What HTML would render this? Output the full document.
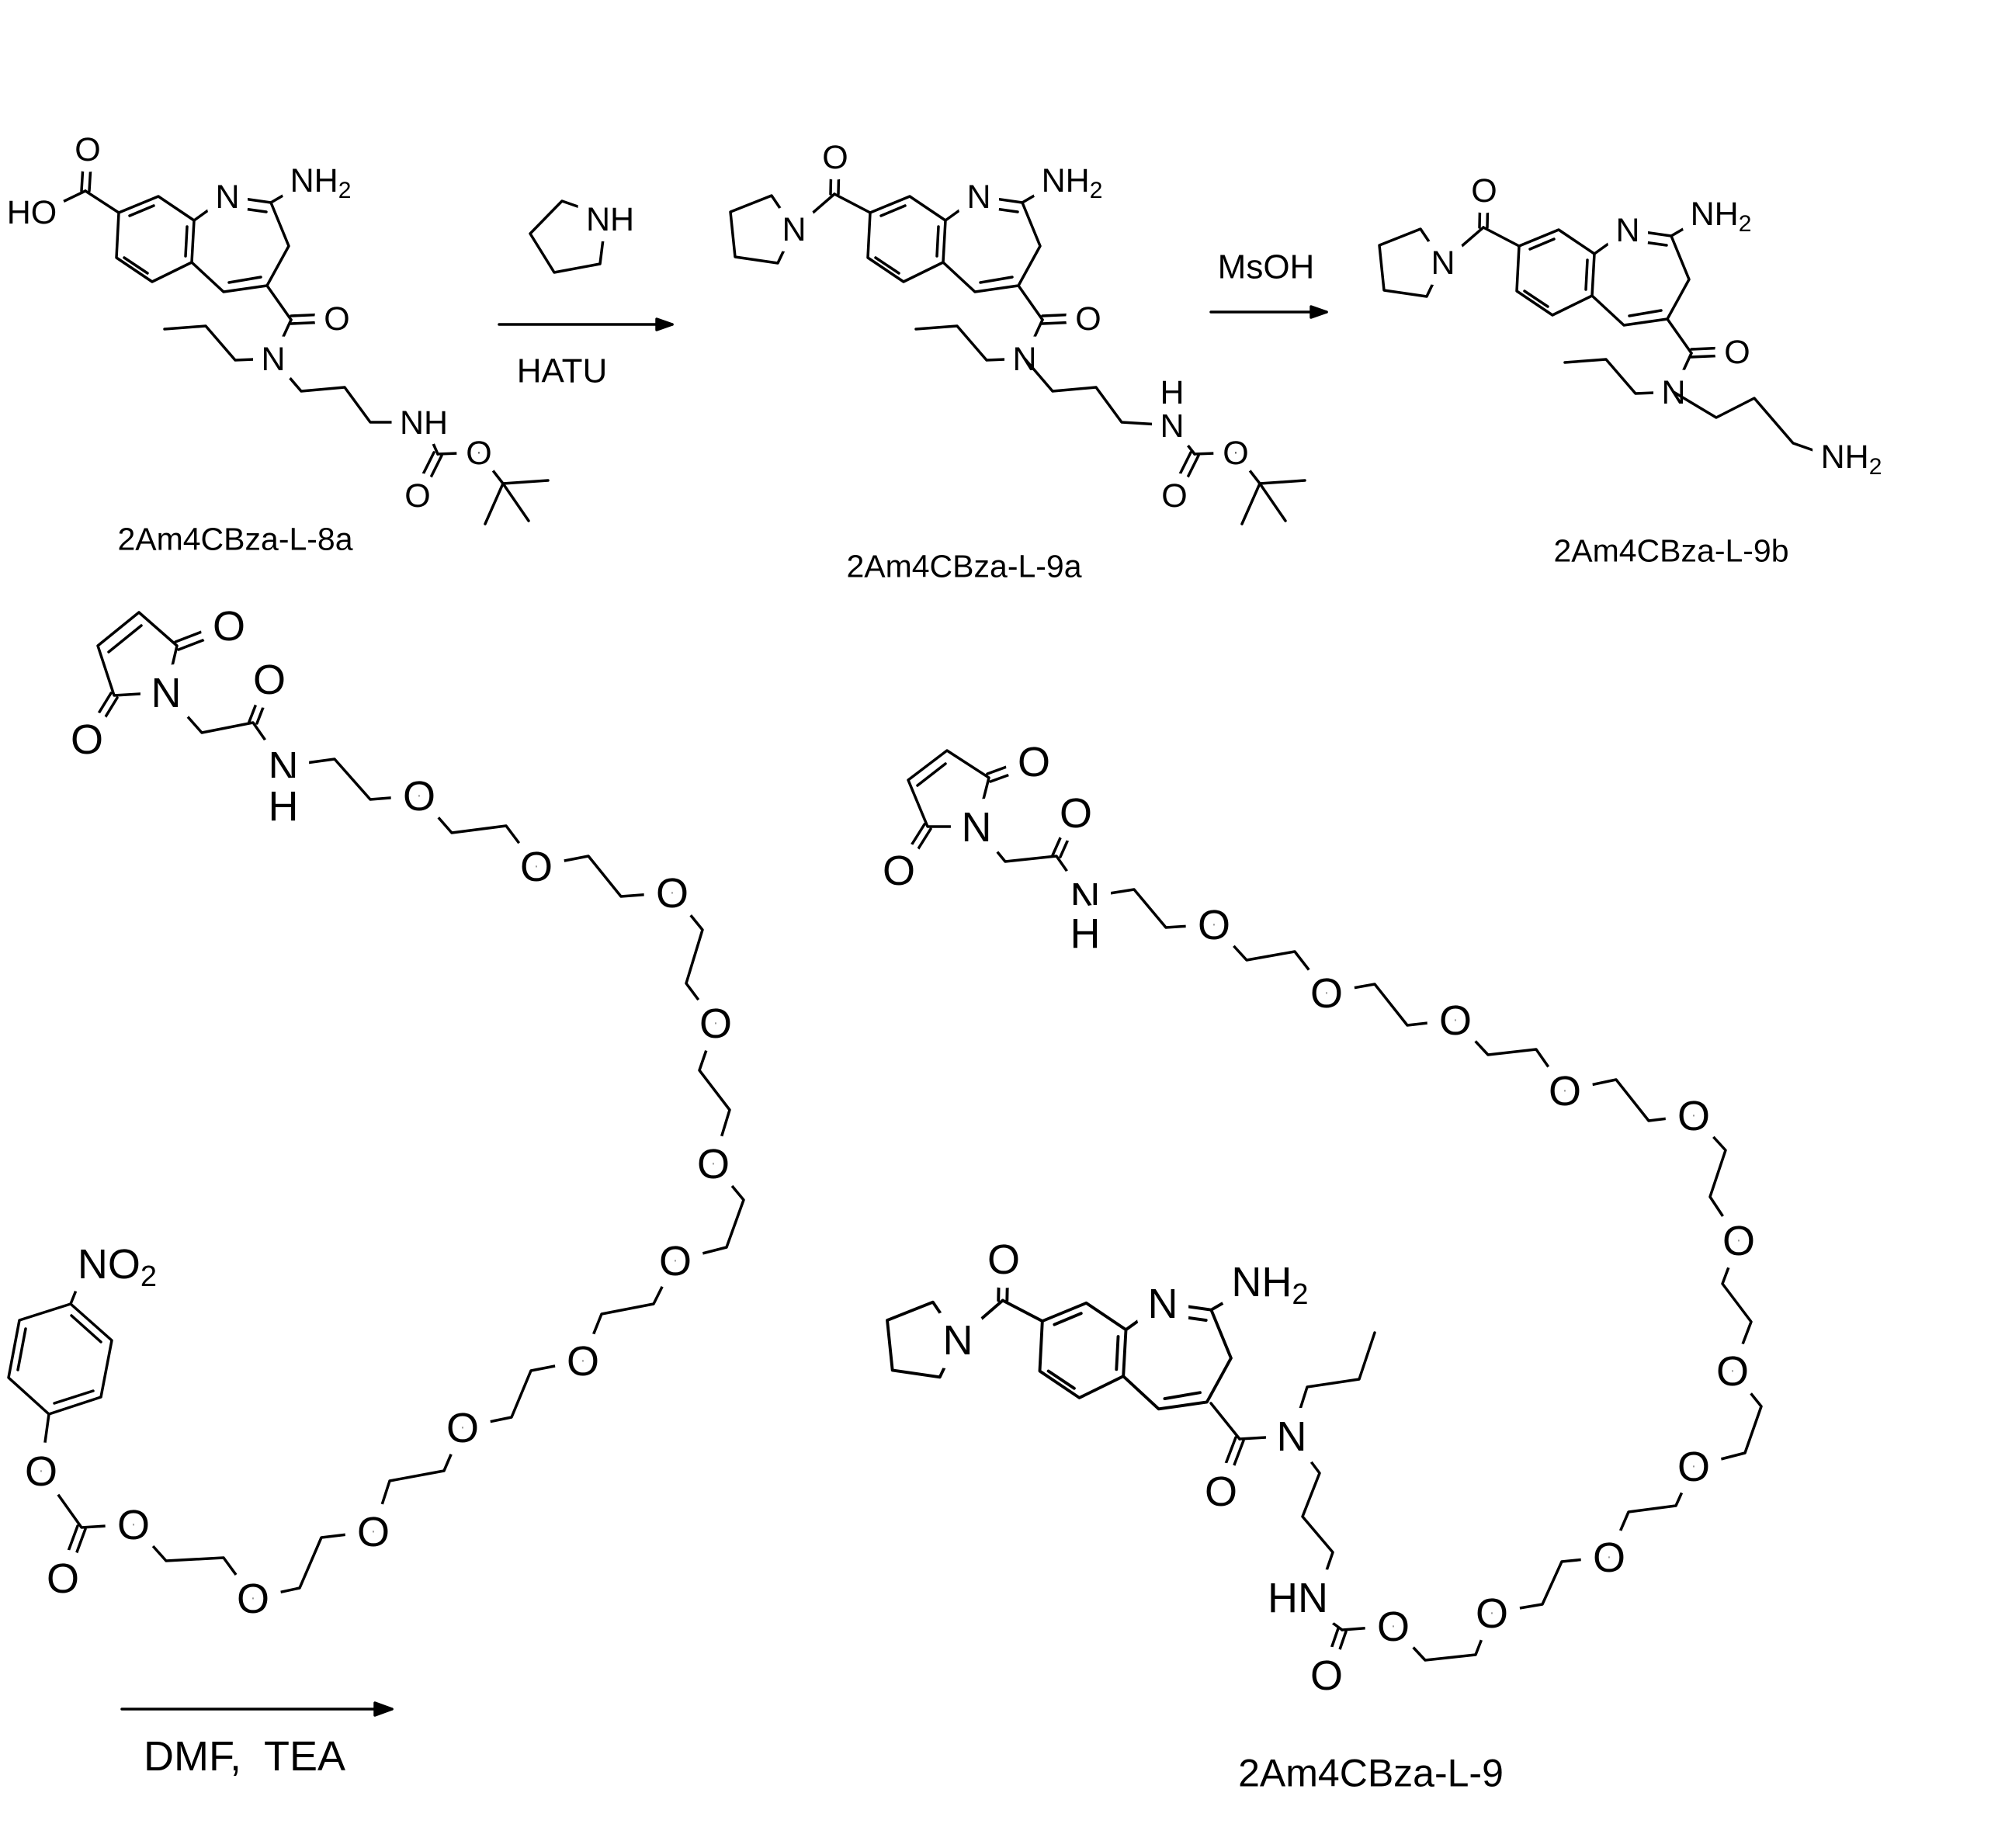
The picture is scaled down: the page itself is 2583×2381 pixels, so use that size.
<!DOCTYPE html>
<html><head><meta charset="utf-8"><style>
html,body{margin:0;padding:0;background:#fff}
svg{display:block}
line,polyline,polygon{stroke:#000;stroke-width:3.5;fill:none;stroke-linejoin:round;stroke-linecap:round}
text{font-family:"Liberation Sans",sans-serif;fill:#000;paint-order:stroke;stroke:#fff;stroke-linejoin:round}
.t{font-size:43px;stroke-width:28px}.b{font-size:54px;stroke-width:36px}
tspan{stroke:none}
.lab{stroke:none}
</style></head><body>
<svg width="2583" height="2381" viewBox="0 0 2583 2381" xmlns="http://www.w3.org/2000/svg">
<defs>
<g id="core">
<polygon points="153,274 204,253 250,284 247,338 196,363 150,332"/>
<line x1="167" y1="278" x2="198" y2="265"/>
<line x1="241" y1="292" x2="239" y2="330"/>
<line x1="190" y1="352" x2="160" y2="332"/>
<polyline points="250,284 293,253 349,261 372,317 344,368 288,376 247,338"/>
<line x1="300" y1="267" x2="343" y2="273"/>
<line x1="295" y1="364" x2="336" y2="357"/>
<line x1="349" y1="261" x2="392" y2="236"/>
</g>
<g id="pyra">
<line x1="153" y1="274" x2="107" y2="250"/>
<line x1="102" y1="250" x2="103" y2="204"/><line x1="112" y1="250" x2="113" y2="204"/>
<polyline points="107,250 55,295 26,252 -27,273 -21,331 34,339 55,295"/>
</g>
<g id="amideTop">
<line x1="344" y1="368" x2="375" y2="412"/>
<line x1="375" y1="407" x2="420" y2="405"/><line x1="375" y1="417" x2="420" y2="415"/>
<line x1="375" y1="412" x2="352" y2="462"/>
<polyline points="352,462 303,464 265,420 212,424"/>
</g>
</defs>

<!-- 8a -->
<use href="#core"/>
<use href="#amideTop"/>
<line x1="110" y1="246" x2="153" y2="274"/>
<line x1="105" y1="246" x2="108" y2="196"/><line x1="115" y1="246" x2="118" y2="196"/>
<line x1="110" y1="246" x2="60" y2="270"/>
<polyline points="352,462 388,504 444,499 477,544 546,544"/>
<line x1="546" y1="544" x2="564" y2="585"/>
<line x1="559" y1="583" x2="534" y2="633"/><line x1="569" y1="587" x2="544" y2="637"/>
<polyline points="564,585 617,583 648,623"/>
<line x1="648" y1="623" x2="706" y2="619"/><line x1="648" y1="623" x2="625" y2="675"/><line x1="648" y1="623" x2="681" y2="671"/>
<text class="t" x="41" y="273" dy=".35em" text-anchor="middle">HO</text>
<text class="t" x="113" y="192" dy=".35em" text-anchor="middle">O</text>
<text class="t" x="293" y="253" dy=".35em" text-anchor="middle">N</text>
<text class="t" x="413" y="232" dy=".35em" text-anchor="middle">NH<tspan font-size="30" dy="8">2</tspan></text>
<text class="t" x="434" y="410" dy=".35em" text-anchor="middle">O</text>
<text class="t" x="352" y="462" dy=".35em" text-anchor="middle">N</text>
<text class="t" x="546" y="544" dy=".35em" text-anchor="middle">NH</text>
<text class="t" x="538" y="638" dy=".35em" text-anchor="middle">O</text>
<text class="t" x="617" y="583" dy=".35em" text-anchor="middle">O</text>
<text class="lab" x="303" y="694" dy=".35em" text-anchor="middle" font-size="41">2Am4CBza-L-8a</text>

<!-- reagent pyrrolidine + HATU -->
<polyline points="770,275 724,259 683,301 714,351 773,340 778,300"/>
<text class="t" x="786" y="282" dy=".35em" text-anchor="middle">NH</text>
<line x1="643" y1="418" x2="866" y2="418"/>
<polygon points="866,418 846,411 846,425" style="fill:#000"/>
<text class="lab" x="724" y="477" dy=".35em" text-anchor="middle" font-size="44">HATU</text>

<!-- 9a -->
<g transform="translate(968,0)">
<use href="#core"/><use href="#pyra"/><use href="#amideTop"/>
<text class="t" x="293" y="253" dy=".35em" text-anchor="middle">N</text>
<text class="t" x="413" y="232" dy=".35em" text-anchor="middle">NH<tspan font-size="30" dy="8">2</tspan></text>
<text class="t" x="434" y="410" dy=".35em" text-anchor="middle">O</text>
<text class="t" x="352" y="462" dy=".35em" text-anchor="middle">N</text>
<text class="t" x="55" y="295" dy=".35em" text-anchor="middle">N</text>
<text class="t" x="108" y="202" dy=".35em" text-anchor="middle">O</text>
</g>
<polyline points="1320,462 1356,504 1412,499 1445,544 1510,548"/>
<line x1="1510" y1="548" x2="1539" y2="585"/>
<line x1="1534" y1="583" x2="1509" y2="633"/><line x1="1544" y1="587" x2="1519" y2="637"/>
<polyline points="1539,585 1592,583 1623,623"/>
<line x1="1623" y1="623" x2="1681" y2="619"/><line x1="1623" y1="623" x2="1600" y2="675"/><line x1="1623" y1="623" x2="1656" y2="671"/>
<text class="t" x="1510" y="548" dy=".35em" text-anchor="middle">N</text>
<text class="t" x="1510" y="505" dy=".35em" text-anchor="middle">H</text>
<text class="t" x="1513" y="638" dy=".35em" text-anchor="middle">O</text>
<text class="t" x="1592" y="583" dy=".35em" text-anchor="middle">O</text>
<text class="lab" x="1242" y="729" dy=".35em" text-anchor="middle" font-size="41">2Am4CBza-L-9a</text>

<!-- MsOH arrow -->
<line x1="1560" y1="402" x2="1709" y2="402"/>
<polygon points="1709,402 1689,395 1689,409" style="fill:#000"/>
<text class="lab" x="1631" y="343" dy=".35em" text-anchor="middle" font-size="44">MsOH</text>

<!-- 9b -->
<g transform="translate(1804,43)">
<use href="#core"/><use href="#pyra"/><use href="#amideTop"/>
<text class="t" x="293" y="253" dy=".35em" text-anchor="middle">N</text>
<text class="t" x="413" y="232" dy=".35em" text-anchor="middle">NH<tspan font-size="30" dy="8">2</tspan></text>
<text class="t" x="434" y="410" dy=".35em" text-anchor="middle">O</text>
<text class="t" x="352" y="462" dy=".35em" text-anchor="middle">N</text>
<text class="t" x="55" y="295" dy=".35em" text-anchor="middle">N</text>
<text class="t" x="108" y="202" dy=".35em" text-anchor="middle">O</text>
</g>
<polyline points="2156,505 2211,538 2260,513 2310,571 2350,585"/>
<text class="t" x="2385" y="588" dy=".35em" text-anchor="middle">NH<tspan font-size="30" dy="8">2</tspan></text>
<text class="lab" x="2153" y="709" dy=".35em" text-anchor="middle" font-size="41">2Am4CBza-L-9b</text>

<!-- left PEG reagent -->
<polygon points="179,789 126,832 147,896 214,892 228,832"/>
<line x1="182" y1="806" x2="140" y2="840"/>
<line x1="226" y1="827" x2="278" y2="807"/><line x1="230" y1="837" x2="282" y2="817"/>
<line x1="143" y1="893" x2="116" y2="937"/><line x1="151" y1="899" x2="124" y2="943"/>
<polyline points="214,892 260,944 326,931 365,987"/>
<line x1="321" y1="930" x2="342" y2="876"/><line x1="331" y1="932" x2="352" y2="878"/>
<polyline points="365,987 431,978 477,1030 540,1025 582,1073 652,1064 691,1116 758,1103 800,1155 866,1150 905,1198 884,1267 922,1318 901,1379 940,1430 919,1499 958,1546 936,1607 870,1624 842,1680 775,1693 751,1753 684,1766 659,1826 596,1839 572,1895 502,1908 481,1973 414,1981 386,2046 326,2059 288,2007 214,2011 172,1964 105,1968 53,1895 63,1822"/>
<line x1="100" y1="1966" x2="76" y2="2031"/><line x1="110" y1="1970" x2="86" y2="2035"/>
<polygon points="63,1822 11,1775 25,1701 91,1680 144,1727 130,1800"/>
<line x1="23" y1="1765" x2="33" y2="1712"/>
<line x1="92" y1="1695" x2="130" y2="1729"/>
<line x1="70" y1="1808" x2="120" y2="1792"/>
<line x1="91" y1="1680" x2="105" y2="1645"/>
<text class="b" x="151" y="1628" dy=".35em" text-anchor="middle">NO<tspan font-size="38" dy="10">2</tspan></text>
<text class="b" x="295" y="806" dy=".35em" text-anchor="middle">O</text>
<text class="b" x="112" y="952" dy=".35em" text-anchor="middle">O</text>
<text class="b" x="214" y="892" dy=".35em" text-anchor="middle">N</text>
<text class="b" x="347" y="875" dy=".35em" text-anchor="middle">O</text>
<text class="b" x="365" y="987" dy=".35em" text-anchor="middle">N</text>
<text class="b" x="365" y="1038" dy=".35em" text-anchor="middle">H</text>
<text class="b" x="540" y="1025" dy=".35em" text-anchor="middle">O</text>
<text class="b" x="691" y="1116" dy=".35em" text-anchor="middle">O</text>
<text class="b" x="866" y="1150" dy=".35em" text-anchor="middle">O</text>
<text class="b" x="922" y="1318" dy=".35em" text-anchor="middle">O</text>
<text class="b" x="919" y="1499" dy=".35em" text-anchor="middle">O</text>
<text class="b" x="870" y="1624" dy=".35em" text-anchor="middle">O</text>
<text class="b" x="751" y="1753" dy=".35em" text-anchor="middle">O</text>
<text class="b" x="596" y="1839" dy=".35em" text-anchor="middle">O</text>
<text class="b" x="481" y="1973" dy=".35em" text-anchor="middle">O</text>
<text class="b" x="326" y="2059" dy=".35em" text-anchor="middle">O</text>
<text class="b" x="172" y="1964" dy=".35em" text-anchor="middle">O</text>
<text class="b" x="81" y="2033" dy=".35em" text-anchor="middle">O</text>
<text class="b" x="53" y="1895" dy=".35em" text-anchor="middle">O</text>

<!-- DMF arrow -->
<line x1="157" y1="2202" x2="505" y2="2202"/>
<polygon points="505,2202 483,2194 483,2210" style="fill:#000"/>
<text class="lab" x="315" y="2262" dy=".35em" text-anchor="middle" font-size="54">DMF,&#160; TEA</text>

<!-- product -->
<polygon points="1220,967 1170,1005 1195,1065 1258,1065 1274,1002"/>
<line x1="1218" y1="984" x2="1182" y2="1012"/>
<line x1="1272" y1="997" x2="1316" y2="981"/><line x1="1276" y1="1007" x2="1320" y2="991"/>
<line x1="1191" y1="1062" x2="1164" y2="1105"/><line x1="1199" y1="1068" x2="1172" y2="1111"/>
<polyline points="1258,1065 1295,1110 1361,1103 1398,1156"/>
<line x1="1356" y1="1102" x2="1381" y2="1046"/><line x1="1366" y1="1104" x2="1391" y2="1048"/>
<polyline points="1398,1156 1461,1146 1502,1195 1564,1191 1606,1237 1668,1226 1709,1279 1771,1268 1813,1321 1875,1314 1917,1359 1979,1352 2016,1405 2082,1391 2124,1444 2182,1437 2223,1482 2203,1542 2240,1598 2219,1654 2256,1703 2232,1766 2269,1812 2248,1872 2182,1889 2159,1940 2098,1948 2073,2006 2012,2012 1987,2067 1922,2078 1901,2132 1836,2139 1795,2095 1729,2100"/>
<g transform="translate(1173,1398) scale(1.11)">
<use href="#core"/><use href="#pyra"/>
</g>
<line x1="1560" y1="1808" x2="1597" y2="1854"/>
<line x1="1592" y1="1852" x2="1568" y2="1915"/><line x1="1602" y1="1856" x2="1578" y2="1919"/>
<line x1="1597" y1="1854" x2="1664" y2="1850"/>
<polyline points="1664,1850 1684,1787 1751,1777 1771,1717"/>
<polyline points="1664,1850 1700,1898 1678,1954 1717,2000 1705,2035 1672,2058"/>
<line x1="1672" y1="2058" x2="1729" y2="2100"/>
<line x1="1724" y1="2098" x2="1704" y2="2156"/><line x1="1734" y1="2102" x2="1714" y2="2160"/>
<text class="b" x="1332" y="981" dy=".35em" text-anchor="middle">O</text>
<text class="b" x="1158" y="1121" dy=".35em" text-anchor="middle">O</text>
<text class="b" x="1258" y="1065" dy=".35em" text-anchor="middle">N</text>
<text class="b" x="1386" y="1047" dy=".35em" text-anchor="middle">O</text>
<text class="b" x="1398" y="1156" dy=".35em" text-anchor="middle">N</text>
<text class="b" x="1398" y="1202" dy=".35em" text-anchor="middle">H</text>
<text class="b" x="1564" y="1191" dy=".35em" text-anchor="middle">O</text>
<text class="b" x="1709" y="1279" dy=".35em" text-anchor="middle">O</text>
<text class="b" x="1875" y="1314" dy=".35em" text-anchor="middle">O</text>
<text class="b" x="2016" y="1405" dy=".35em" text-anchor="middle">O</text>
<text class="b" x="2182" y="1437" dy=".35em" text-anchor="middle">O</text>
<text class="b" x="2240" y="1598" dy=".35em" text-anchor="middle">O</text>
<text class="b" x="2232" y="1766" dy=".35em" text-anchor="middle">O</text>
<text class="b" x="2182" y="1889" dy=".35em" text-anchor="middle">O</text>
<text class="b" x="2073" y="2006" dy=".35em" text-anchor="middle">O</text>
<text class="b" x="1922" y="2078" dy=".35em" text-anchor="middle">O</text>
<text class="b" x="1795" y="2095" dy=".35em" text-anchor="middle">O</text>
<text class="b" x="1709" y="2158" dy=".35em" text-anchor="middle">O</text>
<text class="b" x="1672" y="2058" dy=".35em" text-anchor="middle">HN</text>
<text class="b" x="1664" y="1850" dy=".35em" text-anchor="middle">N</text>
<text class="b" x="1573" y="1921" dy=".35em" text-anchor="middle">O</text>
<text class="b" x="1498" y="1679" dy=".35em" text-anchor="middle">N</text>
<text class="b" x="1636" y="1651" dy=".35em" text-anchor="middle">NH<tspan font-size="38" dy="10">2</tspan></text>
<text class="b" x="1234" y="1726" dy=".35em" text-anchor="middle">N</text>
<text class="b" x="1293" y="1622" dy=".35em" text-anchor="middle">O</text>
<text class="lab" x="1766" y="2284" dy=".35em" text-anchor="middle" font-size="50">2Am4CBza-L-9</text>
</svg>
</body></html>
